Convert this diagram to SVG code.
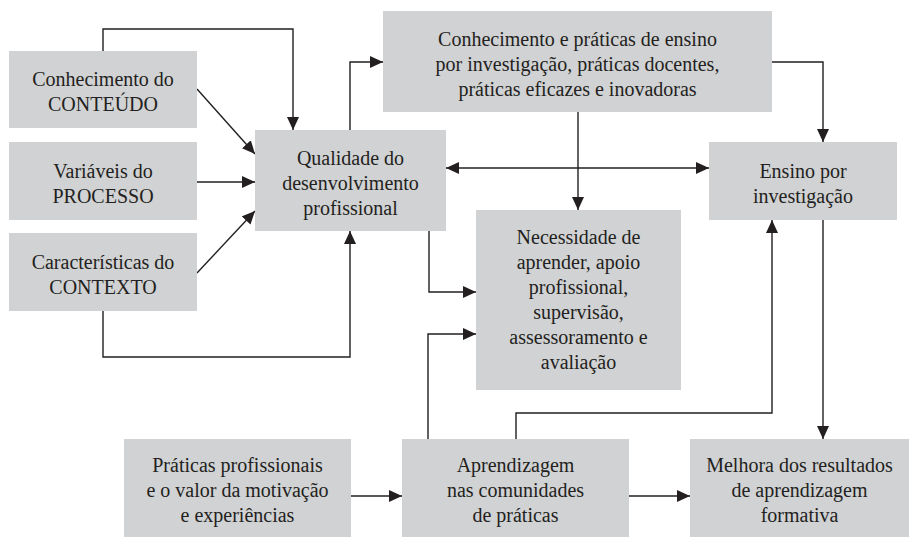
<svg xmlns="http://www.w3.org/2000/svg" width="910" height="537" viewBox="0 0 910 537">
<defs>
<marker id="ah" markerUnits="userSpaceOnUse" markerWidth="13" markerHeight="12" refX="13" refY="6" orient="auto-start-reverse">
<path d="M0,0 L13,6 L0,12 Z" fill="#231f20"/>
</marker>
</defs>
<rect width="910" height="537" fill="#ffffff"/>
<g id="connectors" fill="none" stroke="#231f20" stroke-width="1.4">
<polyline points="103,51 103,29 293,29 293,130" marker-end="url(#ah)"/>
<line x1="197" y1="89" x2="255" y2="154" marker-end="url(#ah)"/>
<line x1="197" y1="182" x2="255" y2="182" marker-end="url(#ah)"/>
<line x1="197" y1="273" x2="255" y2="211" marker-end="url(#ah)"/>
<polyline points="103,311 103,357 350,357 350,231" marker-end="url(#ah)"/>
<polyline points="350,130 350,62 383,62" marker-end="url(#ah)"/>
<polyline points="772,62 823,62 823,142" marker-end="url(#ah)"/>
<line x1="578" y1="112" x2="578" y2="210" marker-end="url(#ah)"/>
<line x1="446" y1="168" x2="709" y2="168" marker-start="url(#ah)" marker-end="url(#ah)"/>
<polyline points="429,231 429,292 476,292" marker-end="url(#ah)"/>
<polyline points="428,439 428,334 476,334" marker-end="url(#ah)"/>
<polyline points="516,439 516,413 772,413 772,220" marker-end="url(#ah)"/>
<line x1="823" y1="220" x2="823" y2="439" marker-end="url(#ah)"/>
<line x1="351" y1="496" x2="402" y2="496" marker-end="url(#ah)"/>
<line x1="629" y1="496" x2="690" y2="496" marker-end="url(#ah)"/>
</g>
<g id="nodes" font-family="Liberation Serif" font-size="20" text-anchor="middle">
<g id="conteudo">
<rect x="9" y="51" width="188" height="77" fill="#d1d2d4"/>
<text x="103" y="86" fill="#231f20">Conhecimento do</text>
<text x="103" y="111" fill="#231f20">CONTEÚDO</text>
</g>
<g id="processo">
<rect x="9" y="142" width="188" height="78" fill="#d1d2d4"/>
<text x="103" y="177.5" fill="#231f20">Variáveis do</text>
<text x="103" y="202.5" fill="#231f20">PROCESSO</text>
</g>
<g id="contexto">
<rect x="9" y="233" width="188" height="78" fill="#d1d2d4"/>
<text x="103" y="268.5" fill="#231f20">Características do</text>
<text x="103" y="293.5" fill="#231f20">CONTEXTO</text>
</g>
<g id="qualidade">
<rect x="255" y="130" width="191" height="101" fill="#d1d2d4"/>
<text x="350.5" y="164.5" fill="#231f20">Qualidade do</text>
<text x="350.5" y="189.5" fill="#231f20">desenvolvimento</text>
<text x="350.5" y="214.5" fill="#231f20">profissional</text>
</g>
<g id="conhecimento">
<rect x="383" y="11" width="389" height="101" fill="#d1d2d4"/>
<text x="577.5" y="45.5" fill="#231f20">Conhecimento e práticas de ensino</text>
<text x="577.5" y="70.5" fill="#231f20">por investigação, práticas docentes,</text>
<text x="577.5" y="95.5" fill="#231f20">práticas eficazes e inovadoras</text>
</g>
<g id="ensino">
<rect x="709" y="142" width="188" height="78" fill="#d1d2d4"/>
<text x="803" y="177.5" fill="#231f20">Ensino por</text>
<text x="803" y="202.5" fill="#231f20">investigação</text>
</g>
<g id="necessidade">
<rect x="476" y="210" width="205" height="180" fill="#d1d2d4"/>
<text x="578.5" y="244" fill="#231f20">Necessidade de</text>
<text x="578.5" y="269" fill="#231f20">aprender, apoio</text>
<text x="578.5" y="294" fill="#231f20">profissional,</text>
<text x="578.5" y="319" fill="#231f20">supervisão,</text>
<text x="578.5" y="344" fill="#231f20">assessoramento e</text>
<text x="578.5" y="369" fill="#231f20">avaliação</text>
</g>
<g id="praticas">
<rect x="124" y="439" width="227" height="98" fill="#d1d2d4"/>
<text x="237.5" y="472" fill="#231f20">Práticas profissionais</text>
<text x="237.5" y="497" fill="#231f20">e o valor da motivação</text>
<text x="237.5" y="522" fill="#231f20">e experiências</text>
</g>
<g id="aprendizagem">
<rect x="402" y="439" width="227" height="98" fill="#d1d2d4"/>
<text x="515.5" y="472" fill="#231f20">Aprendizagem</text>
<text x="515.5" y="497" fill="#231f20">nas comunidades</text>
<text x="515.5" y="522" fill="#231f20">de práticas</text>
</g>
<g id="melhora">
<rect x="690" y="439" width="219" height="98" fill="#d1d2d4"/>
<text x="799.5" y="472" fill="#231f20">Melhora dos resultados</text>
<text x="799.5" y="497" fill="#231f20">de aprendizagem</text>
<text x="799.5" y="522" fill="#231f20">formativa</text>
</g>
</g>
</svg>
